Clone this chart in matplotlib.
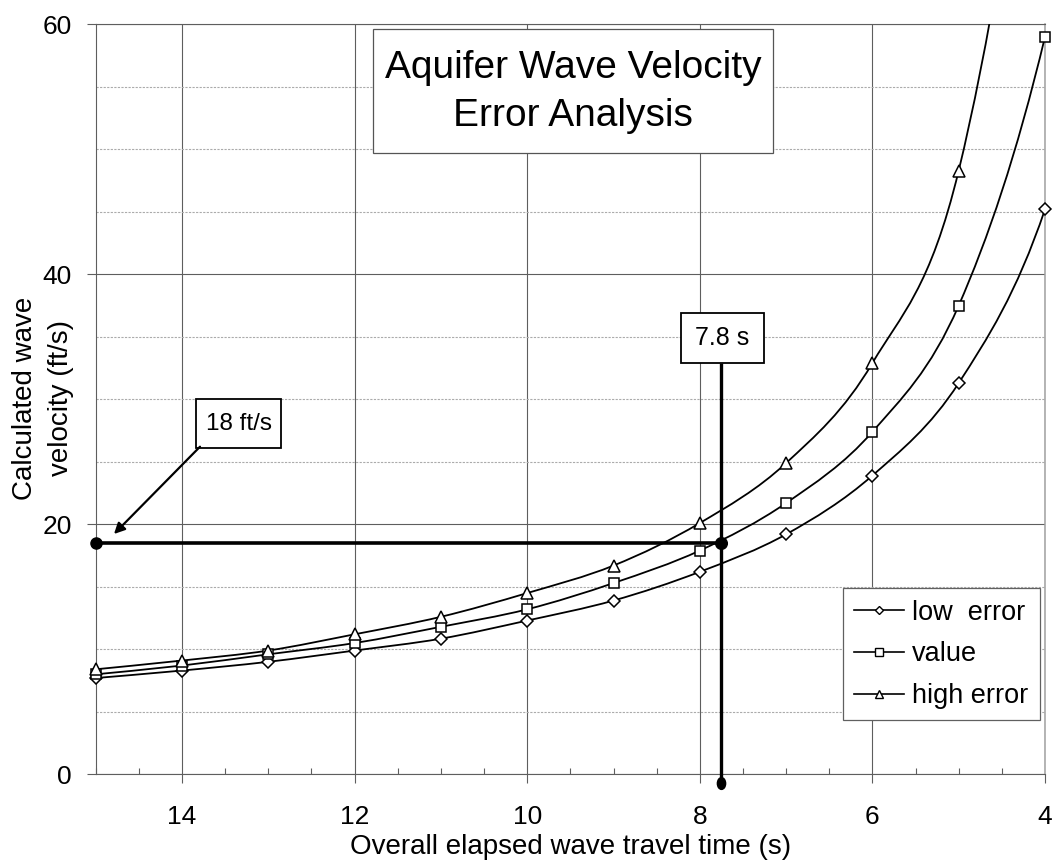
import numpy as np
import matplotlib
matplotlib.use('Agg')
import matplotlib.pyplot as plt
from matplotlib.path import Path
from matplotlib.patches import PathPatch, Rectangle, FancyArrowPatch
from matplotlib.lines import Line2D
from matplotlib.ticker import MultipleLocator, FixedLocator
from matplotlib.markers import MarkerStyle
from matplotlib.transforms import Affine2D

plt.rcParams['font.family'] = ['Liberation Sans', 'DejaVu Sans']

# ---------------- data ----------------
travel_time = [15, 14, 13, 12, 11, 10, 9, 8, 7, 6, 5, 4, 3]
low_error = [7.7, 8.3, 9.0, 9.9, 10.85, 12.3, 13.9, 16.2, 19.2, 23.9, 31.3, 45.2, 72]
value = [8.0, 8.7, 9.6, 10.5, 11.8, 13.2, 15.3, 17.9, 21.7, 27.4, 37.5, 59.0, 95]
high_error = [8.4, 9.1, 9.9, 11.2, 12.6, 14.5, 16.7, 20.1, 24.9, 32.9, 48.3, 90, 160]
series_names = ['low  error', 'value', 'high error']
x_ticks = [14, 12, 10, 8, 6, 4]
y_ticks = [0, 20, 40, 60]
reading_time = 7.75
reading_velocity = 18.5
title_text = 'Aquifer Wave Velocity\nError Analysis'
velocity_label = '18 ft/s'
time_label = '7.8 s'
x_label = 'Overall elapsed wave travel time (s)'
y_label = 'Calculated wave\nvelocity (ft/s)'

# ---------------- figure ----------------
W, H = 1054, 861
fig = plt.figure(figsize=(W / 100, H / 100), dpi=100)


def fx(px):
    return px / W


def fy(py):
    return 1 - py / H


ax = fig.add_axes([fx(95.7), fy(774.3), fx(1045) - fx(95.7), fy(24.3) - fy(774.3)])
X_MAX, X_MIN = 15, 4
Y_MIN, Y_MAX = 0, 60
ax.set_xlim(X_MAX, X_MIN)
ax.set_ylim(Y_MIN, Y_MAX)

grid_col = '#5e5e5e'
ax.xaxis.set_major_locator(FixedLocator(x_ticks))
ax.xaxis.set_minor_locator(MultipleLocator(0.5))
ax.yaxis.set_major_locator(FixedLocator(y_ticks))
ax.yaxis.set_minor_locator(MultipleLocator(5))

ax.grid(which='major', axis='both', color=grid_col, lw=0.8, zorder=0)
ax.grid(which='minor', axis='y', color='#ababab', lw=0.8, ls=(0, (2.0, 1.2)), zorder=0)
ax.set_axisbelow(True)

ax.tick_params(axis='x', which='major', direction='out', length=6.5, width=0.8,
               color=grid_col, labelsize=19, pad=15.5)
ax.tick_params(axis='x', which='minor', direction='in', length=4.5, width=0.8, color=grid_col)
ax.tick_params(axis='y', which='major', direction='out', length=6.5, width=0.8,
               color=grid_col, labelsize=19, pad=10.5)
ax.tick_params(axis='y', which='minor', length=0)

for side in ['left', 'bottom', 'top']:
    ax.spines[side].set_color(grid_col)
    ax.spines[side].set_linewidth(0.8)
ax.spines['right'].set_color('#a0a0a0')
ax.spines['right'].set_linewidth(1.1)

ax.set_xlabel(x_label, fontsize=20, labelpad=4)
fig.text(fx(43), fy(398.5), y_label, rotation=90, ha='center', va='center',
         fontsize=20, linespacing=1.45, multialignment='center')


def smooth_path(xs, ys):
    pts = np.column_stack([xs, ys]).astype(float)
    n = len(pts)
    verts = [pts[0]]
    codes = [Path.MOVETO]
    for i in range(n - 1):
        p0 = pts[i - 1] if i > 0 else pts[i]
        p1 = pts[i]
        p2 = pts[i + 1]
        p3 = pts[i + 2] if i + 2 < n else pts[i + 1]
        c1 = p1 + (p2 - p0) / 6.0
        c2 = p2 - (p3 - p1) / 6.0
        verts += [c1, c2, p2]
        codes += [Path.CURVE4] * 3
    return Path(verts, codes)


series = [low_error, value, high_error]
markers = ['D', 's', '^']
msizes = [5.8, 7.2, 8.2]
handles = []
tt = np.array(travel_time, dtype=float)
for ys, mk, ms, name in zip(series, markers, msizes, series_names):
    ya = np.array(ys, dtype=float)
    patch = PathPatch(smooth_path(tt, ya), fill=False, edgecolor='black',
                      lw=1.3, zorder=3)
    ax.add_patch(patch)
    inside = (tt >= X_MIN) & (tt <= X_MAX) & (ya <= Y_MAX)
    ax.plot(tt[inside], ya[inside], ls='none', marker=mk, ms=ms, mfc='white', mec='black',
            mew=1.1, zorder=4, clip_on=False)
    handles.append(Line2D([], [], color='black', lw=1.2, marker=mk, ms=ms, mfc='white',
                          mec='black', mew=1.0))

# reading lines
ax.plot([15, reading_time], [reading_velocity, reading_velocity], color='black', lw=2.6,
        zorder=5, clip_on=False, solid_capstyle='butt')
ax.plot([15], [reading_velocity], marker='o', ms=8, color='black', zorder=6, clip_on=False)
ax.plot([reading_time], [reading_velocity], marker='o', ms=8.4, color='black', zorder=6,
        clip_on=False)

# vertical line from the 7.8 s box down below the axis
box_bottom_y = ax.transData.inverted().transform(
    fig.transFigure.transform((0, fy(363))))[1]
below_axis_y = ax.transData.inverted().transform(
    fig.transFigure.transform((0, fy(783))))[1]
ax.plot([reading_time, reading_time], [box_bottom_y, below_axis_y], color='black', lw=2.4,
        zorder=5, clip_on=False, solid_capstyle='butt')
oval = MarkerStyle('o', transform=Affine2D().scale(0.7, 1.0))
ax.plot([reading_time], [below_axis_y], marker=oval, ms=8.5, color='black', zorder=6,
        clip_on=False)

# legend
leg = ax.legend(handles, series_names, loc='upper right',
                bbox_to_anchor=(fx(1040), fy(588.3)), bbox_transform=fig.transFigure,
                borderaxespad=0, fontsize=19.5, frameon=True, fancybox=False,
                edgecolor='#606060', framealpha=1, handlelength=1.85, handletextpad=0.3,
                labelspacing=0.58, borderpad=0.42, markerscale=0.75)
leg.get_frame().set_linewidth(0.9)
leg.set_zorder(10)

# title box
fig.add_artist(Rectangle((fx(373), fy(153)), fx(773) - fx(373), fy(29) - fy(153),
                         transform=fig.transFigure, facecolor='white', edgecolor='#555555',
                         lw=0.9, zorder=2))
fig.text(fx(573), fy(92), title_text, ha='center', va='center', fontsize=28,
         linespacing=1.42, zorder=3)

# 18 ft/s box
fig.add_artist(Rectangle((fx(196), fy(448.3)), fx(281) - fx(196), fy(398.7) - fy(448.3),
                         transform=fig.transFigure, facecolor='white', edgecolor='black',
                         lw=1.3, zorder=2))
fig.text(fx(238.5), fy(423.5), velocity_label, ha='center', va='center', fontsize=17.5,
         zorder=3)

# 7.8 s box
fig.add_artist(Rectangle((fx(681), fy(363)), fx(764) - fx(681), fy(313) - fy(363),
                         transform=fig.transFigure, facecolor='white', edgecolor='black',
                         lw=1.3, zorder=2))
fig.text(fx(722.5), fy(338), time_label, ha='center', va='center', fontsize=18, zorder=3)

# arrow
fig.add_artist(FancyArrowPatch(posA=(fx(200), fy(446.7)), posB=(fx(114), fy(534)),
                               transform=fig.transFigure, arrowstyle='-|>',
                               mutation_scale=16, lw=1.6, color='black',
                               shrinkA=0, shrinkB=0, zorder=3))

fig.savefig('out.png', dpi=100)
